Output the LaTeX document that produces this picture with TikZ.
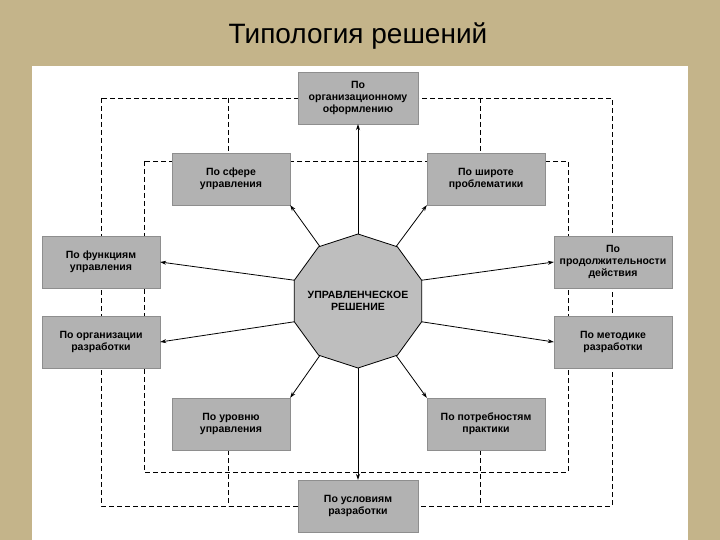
\documentclass[tikz,border=0pt]{standalone}
\usepackage{fontspec}
\setmainfont{Liberation Sans}
\usetikzlibrary{shapes.geometric,arrows.meta}
\definecolor{bg}{RGB}{196,180,138}
\definecolor{boxg}{RGB}{178,178,178}
\begin{document}
\begin{tikzpicture}[x=1pt,y=-1pt,
  cat/.style={draw=boxg!80!black,fill=boxg,minimum width=118pt,minimum height=52pt,inner sep=1pt,align=center,font=\fontsize{10.5}{12}\selectfont\bfseries},
  dline/.style={dashed,dash pattern=on 5pt off 3pt,line width=0.8pt},
  arr/.style={-{Stealth[length=6pt,width=4pt]},line width=0.8pt}]
\fill[bg] (0,0) rectangle (720,540);
\fill[white] (32,66) rectangle (688,540);
\node[font=\fontsize{28}{30}\selectfont] (title) at (358,36) {Типология решений};
\draw[dline] (101,98) rectangle (612,506);
\draw[dline] (144,161) rectangle (568,472);
\draw[dline] (228,98) -- (228,160);
\draw[dline] (480,98) -- (480,160);
\draw[dline] (228,450) -- (228,506);
\draw[dline] (480,450) -- (480,506);
\node[cat,minimum width=120pt] (t) at (358,98) {По\\организационному\\оформлению};
\node[cat] (sf) at (231,179) {По сфере\\управления};
\node[cat] (sh) at (486,179) {По широте\\проблематики};
\node[cat] (fu) at (101,262) {По функциям\\управления};
\node[cat] (pr) at (613,262) {По\\продолжительности\\действия};
\node[cat] (org) at (101,342) {По организации\\разработки};
\node[cat] (me) at (613,342) {По методике\\разработки};
\node[cat] (ur) at (231,424) {По уровню\\управления};
\node[cat] (po) at (486,424) {По потребностям\\практики};
\node[cat,minimum width=120pt] (us) at (358,506) {По условиям\\разработки};
\node[regular polygon,regular polygon sides=10,shape border rotate=18,minimum size=134pt,draw,line width=0.8pt,fill=boxg!85,inner sep=0pt] (c) at (358,301) {};
\node[align=center,font=\fontsize{10.5}{12}\selectfont\bfseries] (ct) at (c.center) {УПРАВЛЕНЧЕСКОЕ\\РЕШЕНИЕ};
\draw[arr] (c.90) -- (t.south);
\draw[arr] (c.125) -- (sf.south east);
\draw[arr] (c.55) -- (sh.south west);
\draw[arr] (c.162) -- (fu.east);
\draw[arr] (c.18) -- (pr.west);
\draw[arr] (c.198) -- (org.east);
\draw[arr] (c.-18) -- (me.west);
\draw[arr] (c.235) -- (ur.north east);
\draw[arr] (c.-55) -- (po.north west);
\draw[arr] (c.270) -- (us.north);
\end{tikzpicture}
\end{document}
